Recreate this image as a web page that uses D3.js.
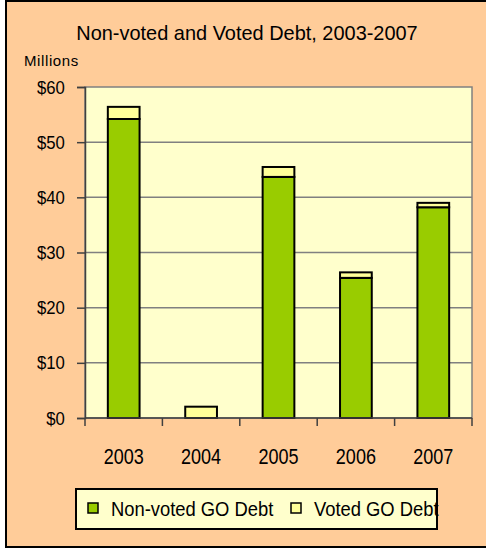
<!DOCTYPE html>
<html>
<head>
<meta charset="utf-8">
<script src="https://cdn.jsdelivr.net/npm/d3@7"></script>
<style>
  body { margin: 0; background: #fff; }
  svg text { font-family: "Liberation Sans", Arial, sans-serif; fill: #000; }
</style>
</head>
<body>
<div id="chart"></div>
<script>
// values in millions of dollars
const years = ['2003', '2004', '2005', '2006', '2007'];
const nonVoted = [54.2, 0, 43.7, 25.4, 38.2];
const voted = [2.2, 2.05, 1.8, 1.0, 0.8];
const yTicks = [0, 10, 20, 30, 40, 50, 60];
const seriesNames = ['Non-voted GO Debt', 'Voted GO Debt'];
const seriesColors = ['#99CC00', '#FFFF99'];

const width = 486, height = 549;
const plot = { left: 85, right: 472, top: 87, bottom: 418 };

const svg = d3.select('#chart').append('svg')
    .attr('width', width)
    .attr('height', height);

// condensed text, the original uses a narrow face
function narrowText(parent, x, y, str, size, sx, anchor) {
    return parent.append('text')
        .attr('transform', `translate(${x},${y}) scale(${sx},1)`)
        .attr('text-anchor', anchor || 'start')
        .attr('font-size', size)
        .text(str);
}

// chart background with border (left, top, bottom)
svg.append('rect')
    .attr('x', 6).attr('y', 1)
    .attr('width', width + 10).attr('height', 546)
    .attr('fill', '#FFCC99')
    .attr('stroke', '#000')
    .attr('stroke-width', 2);

// plot area
svg.append('rect')
    .attr('x', plot.left).attr('y', plot.top)
    .attr('width', plot.right - plot.left)
    .attr('height', plot.bottom - plot.top)
    .attr('fill', '#FFFFCC')
    .attr('stroke', '#808080')
    .attr('stroke-width', 1.5);

const x = d3.scaleBand()
    .domain(years)
    .range([plot.left, plot.right])
    .padding(0);

const y = d3.scaleLinear()
    .domain([0, 60])
    .range([plot.bottom, plot.top]);

// gridlines
svg.append('g')
    .selectAll('line')
    .data(yTicks.filter(t => t > 0 && t < 60))
    .join('line')
    .attr('x1', plot.left).attr('x2', plot.right)
    .attr('y1', d => y(d)).attr('y2', d => y(d))
    .attr('stroke', '#808080')
    .attr('stroke-width', 1.5);

// stacked bars
const rows = years.map((yr, i) => ({ year: yr, nonVoted: nonVoted[i], voted: voted[i] }));
const stack = d3.stack().keys(['nonVoted', 'voted'])(rows);
const barW = x.bandwidth() * 0.41;

svg.append('g')
    .selectAll('g')
    .data(stack)
    .join('g')
    .attr('fill', (d, i) => seriesColors[i])
    .selectAll('rect')
    .data(d => d.filter(s => s[1] - s[0] > 0))
    .join('rect')
    .attr('x', d => x(d.data.year) + (x.bandwidth() - barW) / 2)
    .attr('width', barW)
    .attr('y', d => y(d[1]))
    .attr('height', d => y(d[0]) - y(d[1]))
    .attr('stroke', '#000')
    .attr('stroke-width', 2);

// y axis
const yAxis = svg.append('g')
    .attr('transform', `translate(${plot.left},0)`)
    .call(d3.axisLeft(y).tickValues(yTicks).tickFormat(d => '$' + d).tickSize(8).tickPadding(15));
yAxis.select('.domain').attr('stroke', '#404040').attr('stroke-width', 1.5);
yAxis.selectAll('.tick line').attr('stroke', '#404040').attr('stroke-width', 1.5);
yAxis.selectAll('.tick text')
    .attr('font-size', 19)
    .attr('font-family', null)
    .attr('transform', 'scale(0.88,1)');

// x axis: ticks between categories
const xAxisG = svg.append('g');
xAxisG.append('line')
    .attr('x1', plot.left).attr('x2', plot.right)
    .attr('y1', plot.bottom).attr('y2', plot.bottom)
    .attr('stroke', '#404040').attr('stroke-width', 1.5);
xAxisG.selectAll('line.tk')
    .data(years.concat(['end']))
    .join('line')
    .attr('class', 'tk')
    .attr('x1', (d, i) => plot.left + i * x.step())
    .attr('x2', (d, i) => plot.left + i * x.step())
    .attr('y1', plot.bottom).attr('y2', plot.bottom + 8)
    .attr('stroke', '#404040').attr('stroke-width', 1.5);
years.forEach(d => narrowText(xAxisG, x(d) + x.bandwidth() / 2, 464, d, 22, 0.82, 'middle'));

// title
narrowText(svg, 247, 40, 'Non-voted and Voted Debt, 2003-2007', 21, 0.95, 'middle');
narrowText(svg, 24, 66, 'Millions', 15, 1.0, 'start').attr('letter-spacing', 0.6);

// legend
const legend = svg.append('g');
legend.append('rect')
    .attr('x', 76).attr('y', 489)
    .attr('width', 361).attr('height', 40)
    .attr('fill', '#FFFFCC')
    .attr('stroke', '#000')
    .attr('stroke-width', 2);
const legX = [88, 291];
seriesNames.forEach((d, i) => {
    legend.append('rect')
        .attr('x', legX[i]).attr('y', 503)
        .attr('width', 10).attr('height', 10)
        .attr('fill', seriesColors[i])
        .attr('stroke', '#000')
        .attr('stroke-width', 1.5);
    narrowText(legend, legX[i] + 23, 516, d, 21, 0.875, 'start');
});
</script>
</body>
</html>
